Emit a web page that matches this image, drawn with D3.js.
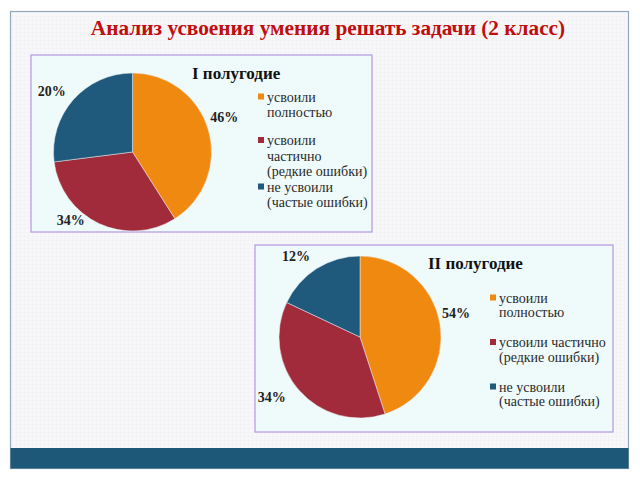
<!DOCTYPE html>
<html>
<head>
<meta charset="utf-8">
<script src="https://cdn.jsdelivr.net/npm/d3@7"></script>
<style>
  body { margin: 0; background: #fff; }
</style>
</head>
<body>
<div id="chart"></div>
<script>
// data
const mainTitle = "Анализ усвоения умения решать задачи (2 класс)";
const categories = ["усвоили полностью", "усвоили частично (редкие ошибки)", "не усвоили (частые ошибки)"];
const colors = ["#f0890f", "#a12b3b", "#1f5a7d"];

const title1 = "I полугодие";
const shares1 = [41, 32, 27];          // slice sizes as drawn
const labels1 = ["46%", "34%", "20%"]; // label texts as printed
const legend1 = [["усвоили", "полностью"], ["усвоили", "частично", "(редкие ошибки)"], ["не усвоили", "(частые ошибки)"]];

const title2 = "II полугодие";
const shares2 = [45, 37, 18];
const labels2 = ["54%", "34%", "12%"];
const legend2 = [["усвоили", "полностью"], ["усвоили частично", "(редкие ошибки)"], ["не усвоили", "(частые ошибки)"]];

var width = 640;
var height = 480;
var serif = "'Liberation Serif', 'Times New Roman', 'DejaVu Serif', serif";

var svg = d3.select("#chart").append("svg")
  .attr("width", width).attr("height", height);

/* slide background */
var defs = svg.append("defs");
var pat = defs.append("pattern").attr("id", "grid")
  .attr("width", 4).attr("height", 4).attr("patternUnits", "userSpaceOnUse");
pat.append("rect").attr("width", 4).attr("height", 4).attr("fill", "#f7f7f9");
pat.append("path").attr("d", "M4 0 L0 0 0 4").attr("fill", "none")
  .attr("stroke", "#ececf1").attr("stroke-width", 0.6);

svg.append("rect").attr("x", 10.5).attr("y", 11.5).attr("width", 618).attr("height", 457)
  .attr("fill", "url(#grid)").attr("stroke", "#93a9ba").attr("stroke-width", 1.2);
svg.append("rect").attr("x", 10.5).attr("y", 448).attr("width", 618).attr("height", 20.5)
  .attr("fill", "#1e5878");

svg.append("text")
  .attr("x", 328).attr("y", 35)
  .attr("text-anchor", "middle")
  .attr("font-family", serif)
  .attr("font-size", 21.3).attr("font-weight", "bold")
  .attr("fill", "#c00d0d")
  .text(mainTitle);

/* one pie chart panel */
function drawPie(opt) {
  var g = svg.append("g");
  g.append("rect")
    .attr("x", opt.box[0]).attr("y", opt.box[1]).attr("width", opt.box[2]).attr("height", opt.box[3])
    .attr("fill", "#effafb").attr("stroke", "#b99ee2").attr("stroke-width", 1.3);

  g.append("text")
    .attr("x", opt.titleX).attr("y", opt.titleY)
    .attr("font-family", serif)
    .attr("font-size", 17).attr("font-weight", "bold").attr("fill", "#111")
    .text(opt.title);

  var arcs = d3.pie().sort(null).value(d => d)(opt.shares);
  var arc = d3.arc().innerRadius(0).outerRadius(opt.r);

  var pg = g.append("g").attr("transform", `translate(${opt.cx}, ${opt.cy})`);
  pg.selectAll("path").data(arcs).enter().append("path")
    .attr("d", arc)
    .attr("fill", (d, i) => colors[i])
    .attr("stroke", "#e8eef2").attr("stroke-width", 0.5);

  // labels sit just outside the rim, nudged like the best-fit placement
  pg.selectAll("text").data(arcs).enter().append("text")
    .attr("transform", function (d, i) {
      var a = (d.startAngle + d.endAngle) / 2 + opt.nudge[i] * Math.PI / 180;
      var rr = opt.r + opt.labelGap[i];
      return `translate(${Math.sin(a) * rr}, ${-Math.cos(a) * rr})`;
    })
    .attr("text-anchor", "middle")
    .attr("dominant-baseline", "central")
    .attr("font-family", serif)
    .attr("font-size", 14).attr("font-weight", "bold").attr("fill", "#222")
    .text((d, i) => opt.labels[i]);

  /* legend */
  var y = opt.legendY;
  opt.legend.forEach(function (lines, i) {
    g.append("rect")
      .attr("x", opt.legendX).attr("y", y - 3.5).attr("width", 6).attr("height", 6)
      .attr("fill", colors[i]);
    lines.forEach(function (line, j) {
      g.append("text")
        .attr("x", opt.legendX + 9).attr("y", y + j * opt.lineH)
        .attr("dominant-baseline", "central")
        .attr("font-family", serif)
        .attr("font-size", 14).attr("fill", "#2a2a2a")
        .text(line);
    });
    y += opt.step ? opt.step : lines.length * opt.lineH + (i === 0 ? 12.5 : 0);
  });
}

drawPie({
  box: [31, 55, 341, 177], cx: 132.5, cy: 152, r: 79,
  shares: shares1, labels: labels1, nudge: [-4.5, 17, -4.5], labelGap: [19, 13, 22],
  title: title1, titleX: 192, titleY: 79,
  legend: legend1, legendX: 258, legendY: 97, lineH: 15.5
});

drawPie({
  box: [255, 245, 358, 187], cx: 360, cy: 337, r: 81,
  shares: shares2, labels: labels2, nudge: [-5, 7, -6], labelGap: [18, 26, 22],
  title: title2, titleX: 428, titleY: 269,
  legend: legend2, legendX: 490, legendY: 298, lineH: 14.5, step: 44.5
});
</script>
</body>
</html>
